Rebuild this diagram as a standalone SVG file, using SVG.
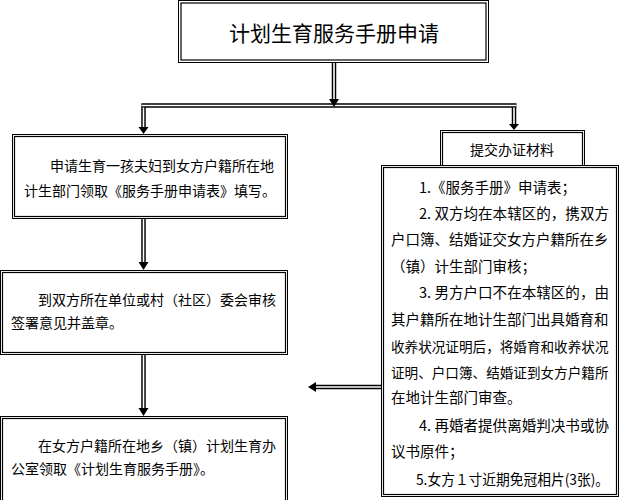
<svg xmlns="http://www.w3.org/2000/svg" width="620" height="500" viewBox="0 0 620 500">
<defs>
<style>
.o{fill:#fff;stroke:#000;stroke-width:1}
.i{fill:none;stroke:#000;stroke-width:1.2}
.t{font-family:"Noto Sans CJK SC","Noto Sans CJK TC",sans-serif;font-size:14px;fill:#000}
.tr{font-family:"Noto Sans CJK SC","Noto Sans CJK TC",sans-serif;font-size:14.5px;fill:#000}
.ts{font-family:"Noto Sans CJK SC","Noto Sans CJK TC",sans-serif;font-size:13.6px;fill:#000}
.dl{stroke:#000;stroke-width:4.5;fill:none}
.dw{stroke:#fff;stroke-width:1.6;fill:none}
.ah{fill:#000}
</style>
</defs>
<rect width="620" height="500" fill="#fff"/>
<g id="connectors">
<path class="dl" d="M334,62V100 M141.5,105.5H516.5 M143.5,104V128 M514,104V125 M143.5,218V263 M143.5,354V409 M381,387H315"/>
<path class="dw" d="M334,62V100 M141.5,105.5H516.5 M143.5,107.5V128 M514,107.5V125 M143.5,218V263 M143.5,354V409 M381,387H315"/>
<polygon class="ah" points="329,99 339,99 334,107"/>
<polygon class="ah" points="138.5,127 148.5,127 143.5,134"/>
<polygon class="ah" points="509,124 519,124 514,130"/>
<polygon class="ah" points="138.5,262 148.5,262 143.5,270"/>
<polygon class="ah" points="138.5,408 148.5,408 143.5,416"/>
<polygon class="ah" points="316,382 316,392 308,387"/>
</g>
<g id="title">
<rect class="o" x="178.5" y="0.5" width="310" height="62"/>
<rect class="i" x="181" y="3" width="305" height="57"/>
<text class="t" x="334" y="41" text-anchor="middle" style="font-size:21px">计划生育服务手册申请</text>
</g>
<g id="step1">
<rect class="o" x="12.5" y="134.5" width="275" height="84"/>
<rect class="i" x="14.5" y="136.5" width="271" height="80"/>
<text class="t" x="50" y="171">申请生育一孩夫妇到女方户籍所在地</text>
<text class="t" x="24" y="196">计生部门领取《服务手册申请表》填写。</text>
</g>
<g id="step2">
<rect class="o" x="0.5" y="270.5" width="287" height="84"/>
<rect class="i" x="2.5" y="272.5" width="283" height="80"/>
<text class="t" x="38" y="305">到双方所在单位或村（社区）委会审核</text>
<text class="t" x="11" y="328">签署意见并盖章。</text>
</g>
<g id="step3">
<rect class="o" x="0.5" y="416.5" width="287" height="90"/>
<rect class="i" x="2.5" y="418.5" width="283" height="90"/>
<text class="t" x="38" y="451">在女方户籍所在地乡（镇）计划生育办</text>
<text class="t" x="11" y="474">公室领取《计划生育服务手册》。</text>
</g>
<g id="materials-title">
<rect class="o" x="440.5" y="130.5" width="144" height="36"/>
<rect class="i" x="442.5" y="132.5" width="140" height="34"/>
<text class="t" x="512" y="155" text-anchor="middle">提交办证材料</text>
</g>
<g id="materials">
<rect class="o" x="381.5" y="165.5" width="237" height="331"/>
<rect class="i" x="383.5" y="167.5" width="233" height="327"/>
<text class="tr" x="419" y="193">1.《服务手册》申请表；</text>
<text class="tr" x="419" y="219" textLength="190" lengthAdjust="spacingAndGlyphs">2. 双方均在本辖区的，携双方</text>
<text class="tr" x="391" y="245">户口簿、结婚证交女方户籍所在乡</text>
<text class="tr" x="391" y="272">（镇）计生部门审核；</text>
<text class="tr" x="419" y="298" textLength="190" lengthAdjust="spacingAndGlyphs">3. 男方户口不在本辖区的，由</text>
<text class="tr" x="391" y="325">其户籍所在地计生部门出具婚育和</text>
<text class="ts" x="391" y="352">收养状况证明后，将婚育和收养状况</text>
<text class="ts" x="391" y="378">证明、户口簿、结婚证到女方户籍所</text>
<text class="tr" x="391" y="403">在地计生部门审查。</text>
<text class="tr" x="419" y="431" textLength="190" lengthAdjust="spacingAndGlyphs">4. 再婚者提供离婚判决书或协</text>
<text class="tr" x="391" y="457">议书原件；</text>
<text class="tr" x="416" y="485" textLength="193" lengthAdjust="spacingAndGlyphs">5.女方１寸近期免冠相片(3张)。</text>
</g>
</svg>
